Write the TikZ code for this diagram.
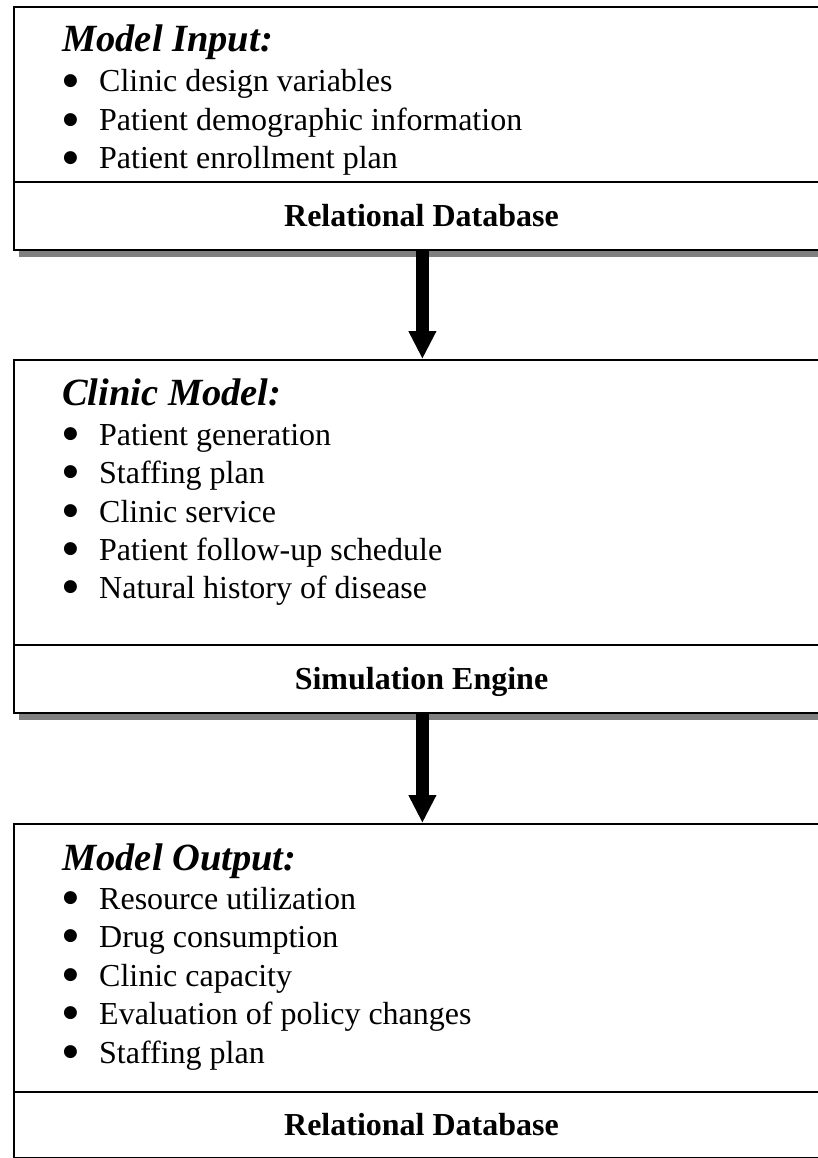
\documentclass[tikz,border=0pt]{standalone}
\usepackage{fontspec}
\setmainfont{Liberation Serif}
\newfontfamily\dotfont{DejaVu Sans}
\usetikzlibrary{arrows.meta,shadows}
\definecolor{shadowgray}{HTML}{808080}
\tikzset{
  panel/.style={draw=black, line width=1.8pt, fill=white, anchor=north west,
    inner sep=0pt, minimum width=817pt,
    drop shadow={shadow xshift=5pt, shadow yshift=-7pt, fill=shadowgray, opacity=1}},
  divider/.style={line width=1.8pt},
  heading/.style={anchor=base west, inner sep=0pt, font=\fontsize{38.5}{46}\selectfont\bfseries\itshape},
  item/.style={anchor=base west, inner sep=0pt, font=\fontsize{32}{38}\selectfont},
  dot/.style={anchor=center, inner sep=0pt, font=\dotfont\fontsize{17}{20}\selectfont},
  footer/.style={anchor=base, inner sep=0pt, font=\fontsize{32}{38}\selectfont\bfseries},
  flow/.style={line width=13pt, -{Triangle[width=26pt,length=28pt]}}
}
\begin{document}
\begin{tikzpicture}[x=1pt,y=-1pt]
\useasboundingbox (0,0) rectangle (818,1158);

% --- input panel ---
\node[panel, minimum height=243pt] (input) at (13,6) {};
\draw[divider] (13,182) -- (830,182);
\node[heading] (inT) at (62,52) {Model Input:};
\foreach \y/\t [count=\i] in {92/Clinic design variables,131/Patient demographic information,169/Patient enrollment plan}{
  \node[dot] (inB\i) at (70.5,\y-10.5) {●};
  \node[item] (inI\i) at (99,\y) {\t};
}
\node[footer] (inF) at (421.5,226) {Relational Database};

% --- clinic model panel ---
\node[panel, minimum height=353pt] (clinic) at (13,359) {};
\draw[divider] (13,645) -- (830,645);
\node[heading] (cmT) at (62,405) {Clinic Model:};
\foreach \y/\t [count=\i] in {445/Patient generation,483/Staffing plan,522/Clinic service,560/Patient follow-up schedule,598/Natural history of disease}{
  \node[dot] (cmB\i) at (70.5,\y-10.5) {●};
  \node[item] (cmI\i) at (99,\y) {\t};
}
\node[footer] (cmF) at (421.5,689) {Simulation Engine};

% --- output panel ---
\node[panel, minimum height=334pt] (output) at (13,823) {};
\draw[divider] (13,1092) -- (830,1092);
\node[heading] (outT) at (62,870) {Model Output:};
\foreach \y/\t [count=\i] in {909/Resource utilization,947/Drug consumption,986/Clinic capacity,1024/Evaluation of policy changes,1063/Staffing plan}{
  \node[dot] (outB\i) at (70.5,\y-10.5) {●};
  \node[item] (outI\i) at (99,\y) {\t};
}
\node[footer] (outF) at (421.5,1135) {Relational Database};

% --- flow arrows ---
\draw[flow] (input.south) -- (clinic.north);
\draw[flow] (clinic.south) -- (output.north);
\end{tikzpicture}
\end{document}
